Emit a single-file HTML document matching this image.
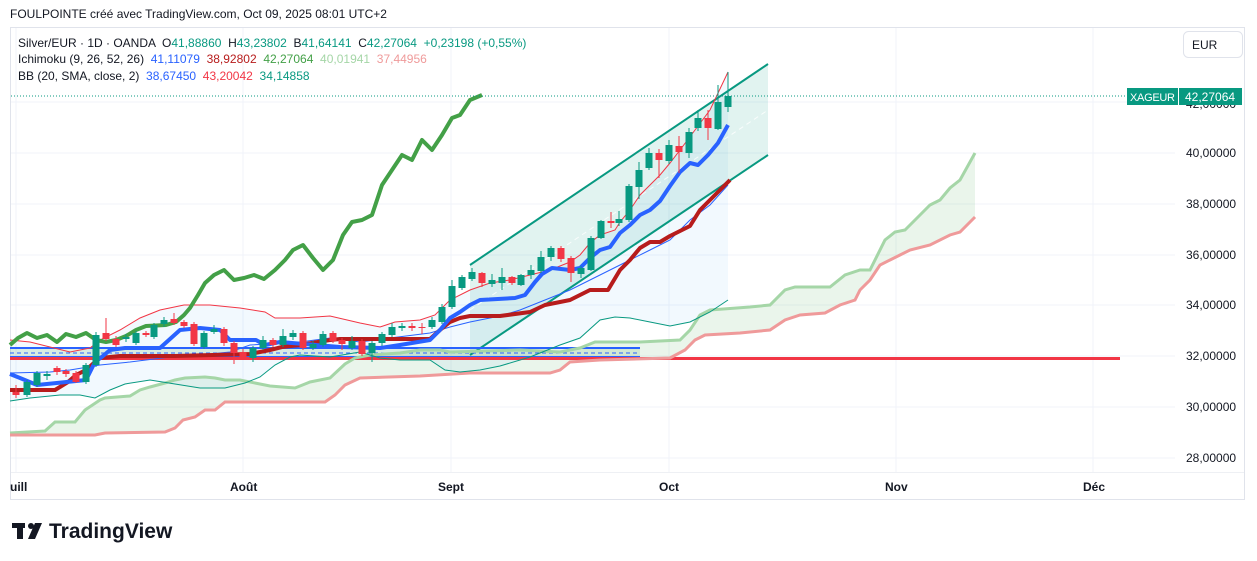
<!DOCTYPE html>
<html><head><meta charset="utf-8"><style>
body{margin:0;width:1257px;height:561px;background:#fff;overflow:hidden;font-family:"Liberation Sans",sans-serif;}
svg{position:absolute;left:0;top:0}
text{white-space:pre}
</style></head><body>
<svg id="s" width="1257" height="561" xmlns="http://www.w3.org/2000/svg" font-family="Liberation Sans, sans-serif">
<rect x="10.5" y="27.5" width="1234" height="472" fill="#fff" stroke="#e0e3eb"/>
<g stroke="#f0f3fa" stroke-width="1">
<line x1="11" y1="102" x2="1175" y2="102"/><line x1="11" y1="153" x2="1175" y2="153"/><line x1="11" y1="204" x2="1175" y2="204"/><line x1="11" y1="255" x2="1175" y2="255"/><line x1="11" y1="305" x2="1175" y2="305"/><line x1="11" y1="356" x2="1175" y2="356"/><line x1="11" y1="407" x2="1175" y2="407"/><line x1="11" y1="458" x2="1175" y2="458"/>
<line x1="16" y1="28" x2="16" y2="472"/><line x1="243" y1="28" x2="243" y2="472"/><line x1="451" y1="28" x2="451" y2="472"/><line x1="669" y1="28" x2="669" y2="472"/><line x1="896" y1="28" x2="896" y2="472"/><line x1="1093" y1="28" x2="1093" y2="472"/>
</g>
<line x1="11" y1="472.5" x2="1244" y2="472.5" stroke="#eef0f4"/>
<g id="plot"></g>
<text x="10" y="18" font-size="12" fill="#131722">FOULPOINTE créé avec TradingView.com, Oct 09, 2025 08:01 UTC+2</text>
<g font-size="12">
<text x="18" y="47" fill="#131722" xml:space="preserve">Silver/EUR · 1D · OANDA  O<tspan fill="#089981">41,88860</tspan>  H<tspan fill="#089981">43,23802</tspan>  B<tspan fill="#089981">41,64141</tspan>  C<tspan fill="#089981">42,27064</tspan>  <tspan fill="#089981">+0,23198 (+0,55%)</tspan></text>
<text x="18" y="63" fill="#131722" xml:space="preserve">Ichimoku (9, 26, 52, 26)  <tspan fill="#2962ff">41,11079</tspan>  <tspan fill="#b71c1c">38,92802</tspan>  <tspan fill="#43a047">42,27064</tspan>  <tspan fill="#a5d6a7">40,01941</tspan>  <tspan fill="#ef9a9a">37,44956</tspan></text>
<text x="18" y="80" fill="#131722" xml:space="preserve">BB (20, SMA, close, 2)  <tspan fill="#2962ff">38,67450</tspan>  <tspan fill="#f23645">43,20042</tspan>  <tspan fill="#089981">34,14858</tspan></text>
</g>
<rect x="1183.5" y="31.5" width="59" height="26" rx="5" fill="#fff" stroke="#e0e3eb"/>
<text x="1192" y="49" font-size="12" fill="#131722">EUR</text>
<g font-size="12" fill="#131722">
<text x="1186" y="157">40,00000</text><text x="1186" y="208">38,00000</text><text x="1186" y="259">36,00000</text><text x="1186" y="309">34,00000</text><text x="1186" y="360">32,00000</text><text x="1186" y="411">30,00000</text><text x="1186" y="462">28,00000</text><text x="1186" y="108">42,00000</text>
</g>
<line x1="11" y1="96" x2="1126" y2="96" stroke="#089981" stroke-dasharray="1,2"/>
<rect x="1127" y="88" width="51" height="17" fill="#089981"/><rect x="1179" y="88" width="63" height="17" fill="#089981"/>
<text x="1130" y="101" font-size="11" fill="#fff" textLength="45">XAGEUR</text><text x="1185" y="101" font-size="12" fill="#fff">42,27064</text>
<g font-size="12" fill="#131722" font-weight="bold">
<text x="10" y="491">uill</text><text x="230" y="491">Août</text><text x="438" y="491">Sept</text><text x="659" y="491">Oct</text><text x="885" y="491">Nov</text><text x="1083" y="491">Déc</text>
</g>
<g fill="#131722"><rect x="12" y="523" width="13" height="5"/><rect x="17" y="523" width="6" height="16"/><circle cx="31" cy="526" r="3"/><polygon points="35,523 42,523 35,539 28,539"/></g>
<text x="49" y="538" font-size="21" font-weight="bold" fill="#131722">TradingView</text>
</svg>
<script>
var g=document.getElementById('plot'),NS='http://www.w3.org/2000/svg';
function el(t,a){var e=document.createElementNS(NS,t);for(var k in a)e.setAttribute(k,a[k]);g.appendChild(e);return e;}
function pts(a){return a.map(function(p){return p.join(',')}).join(' ');}
var A=[[10,433],[45,431],[55,422],[75,422],[85,410],[100,400],[105,398],[130,396],[140,390],[150,387],[165,383],[175,380],[185,378],[205,377],[215,378],[225,380],[240,380],[270,386],[295,388],[310,382],[330,378],[345,364],[355,358],[370,355],[400,353],[420,350],[440,350],[450,352],[520,350],[560,352],[580,348],[595,342],[640,342],[680,340],[690,330],[700,315],[710,310],[750,307],[770,305],[785,290],[795,287],[830,287],[845,275],[860,270],[870,270],[885,240],[895,232],[905,230],[920,215],[930,205],[940,200],[950,188],[960,180],[975,153]];
var B=[[10,435],[95,435],[105,433],[165,432],[175,428],[183,420],[195,417],[205,410],[215,410],[225,402],[325,402],[335,395],[345,385],[360,378],[420,376],[470,373],[550,373],[560,370],[570,362],[600,360],[670,358],[685,350],[695,340],[705,335],[740,333],[770,330],[785,320],[800,315],[825,313],[840,305],[855,300],[860,290],[870,280],[880,265],[890,260],[900,255],[910,250],[930,245],[950,235],[960,232],[975,217]];
el('polygon',{points:pts(A.concat(B.slice().reverse())),fill:'rgba(67,160,71,0.11)'});
var U=[[10,340],[30,342],[70,352],[90,348],[100,340],[120,330],[140,318],[160,310],[184,305],[210,305],[240,308],[265,312],[275,318],[300,318],[330,316],[360,323],[380,327],[395,322],[420,320],[435,315],[450,300],[470,290],[490,283],[510,280],[530,275],[550,270],[570,262],[580,255],[590,243],[600,235],[615,230],[620,222],[630,210],[640,195],[650,185],[660,175],[670,163],[680,150],[695,130],[710,110],[728,72]];
var M=[[10,373],[50,372],[70,370],[100,365],[130,362],[170,357],[200,355],[230,352],[250,345],[300,342],[330,338],[360,342],[390,338],[430,333],[450,327],[470,322],[500,316],[520,310],[545,300],[570,290],[590,280],[610,270],[630,260],[650,250],[670,240],[690,220],[710,205],[728,185]];
var L=[[10,401],[30,398],[60,395],[80,395],[95,398],[110,390],[125,384],[150,380],[175,384],[200,388],[225,388],[245,383],[260,377],[275,365],[290,357],[300,355],[330,357],[360,352],[380,358],[400,360],[430,360],[445,370],[460,372],[480,370],[500,366],[530,357],[560,345],[580,338],[600,320],[615,317],[630,318],[650,322],[670,326],[690,322],[710,312],[728,300]];
el('polygon',{points:pts(U.concat(L.slice().reverse())),fill:'rgba(33,150,243,0.06)'});
el('polygon',{points:'470,265 768,64 768,155 470,355',fill:'rgba(8,153,129,0.12)'});
el('line',{x1:470,y1:310,x2:768,y2:110,stroke:'#fff','stroke-dasharray':'5,4','stroke-opacity':0.8});
el('line',{x1:470,y1:265,x2:768,y2:64,stroke:'#089981','stroke-width':2});
el('line',{x1:470,y1:355,x2:768,y2:155,stroke:'#089981','stroke-width':2});
el('rect',{x:10,y:348,width:630,height:9,fill:'rgba(67,160,71,0.15)'});
el('line',{x1:10,y1:348,x2:640,y2:348,stroke:'#2962ff','stroke-width':2});
el('line',{x1:10,y1:353,x2:640,y2:353,stroke:'#2962ff','stroke-dasharray':'4,3'});
el('line',{x1:10,y1:357,x2:640,y2:357,stroke:'#2962ff','stroke-width':2});
el('line',{x1:10,y1:358.5,x2:1120,y2:358.5,stroke:'#f23645','stroke-width':3});
el('polyline',{points:pts(A),fill:'none',stroke:'#a5d6a7','stroke-width':3});
el('polyline',{points:pts(B),fill:'none',stroke:'#ef9a9a','stroke-width':3});
el('polyline',{points:pts(U),fill:'none',stroke:'#f23645','stroke-width':1});
el('polyline',{points:pts(M),fill:'none',stroke:'#2962ff','stroke-width':1});
el('polyline',{points:pts(L),fill:'none',stroke:'#089981','stroke-width':1});
var K=[[10,390],[55,390],[68,382],[76,375],[86,370],[95,362],[100,358],[120,356],[175,356],[250,354],[270,350],[282,347],[300,345],[330,340],[340,339],[430,339],[440,330],[450,322],[460,318],[470,316],[500,316],[530,312],[545,305],[570,300],[590,290],[608,290],[620,270],[630,260],[640,248],[650,242],[660,242],[670,236],[690,226],[700,210],[710,200],[720,190],[730,180]];
var T=[[10,374],[20,378],[37,385],[86,380],[95,362],[103,356],[110,350],[125,348],[160,348],[180,330],[200,328],[220,330],[230,340],[256,340],[265,345],[280,342],[340,347],[380,348],[400,345],[430,340],[440,330],[450,318],[460,312],[470,305],[480,300],[515,298],[525,295],[535,282],[542,274],[552,268],[570,270],[580,268],[590,258],[600,250],[610,247],[620,233],[630,225],[640,215],[650,210],[660,201],[670,186],[680,172],[690,163],[698,165],[708,155],[718,143],[728,125]];
var C=[[10,345],[18,338],[27,333],[37,338],[47,335],[57,342],[66,334],[76,337],[86,333],[96,340],[106,342],[116,340],[126,336],[136,330],[146,326],[166,325],[176,322],[184,315],[190,308],[198,295],[205,283],[214,275],[224,270],[234,280],[244,278],[254,275],[264,279],[275,270],[285,260],[293,250],[303,245],[313,258],[323,270],[333,260],[343,235],[352,222],[362,220],[372,215],[382,185],[392,170],[402,155],[412,160],[422,140],[432,150],[442,135],[452,118],[460,115],[470,100],[482,95]];
el('polyline',{points:pts(C),fill:'none',stroke:'#43a047','stroke-width':4,'stroke-linejoin':'round'});
el('polyline',{points:pts(K),fill:'none',stroke:'#b71c1c','stroke-width':4,'stroke-linejoin':'round'});
el('polyline',{points:pts(T),fill:'none',stroke:'#2962ff','stroke-width':4,'stroke-linejoin':'round'});
var cd=[[16,392,395,385,398,0],[27,382,395,380,397,1],[37,373,385,371,387,1],[47,374,376,371,380,1],[57,368,372,366,375,0],[66,371,374,369,377,0],[76,373,382,371,383,0],[86,365,382,363,384,1],[96,335,365,332,367,1],[106,333,339,318,341,0],[116,339,345,336,347,0],[126,337,339,334,342,1],[136,333,343,331,345,1],[146,333,335,331,337,0],[154,325,337,323,339,1],[164,320,324,317,327,1],[174,319,323,313,325,0],[184,322,326,320,328,0],[194,324,344,322,346,0],[204,333,347,331,349,1],[214,329,332,325,334,1],[224,329,343,327,346,0],[234,343,353,341,364,0],[243,352,358,349,360,0],[253,348,358,346,362,1],[263,340,348,336,350,1],[273,340,345,338,347,0],[283,336,345,329,347,1],[293,333,337,330,340,1],[303,333,348,331,350,0],[313,344,348,341,350,1],[323,334,345,331,347,1],[333,333,341,331,343,0],[342,340,344,338,350,0],[352,341,348,336,350,1],[362,341,354,339,356,0],[372,343,353,341,362,1],[382,334,343,332,346,1],[392,327,335,323,337,1],[402,326,328,323,331,1],[412,326,328,323,331,0],[422,327,328,323,334,0],[432,320,327,317,329,1],[442,307,322,304,324,1],[452,286,307,280,309,1],[462,277,288,275,290,1],[472,272,279,268,281,1],[482,273,283,272,287,0],[492,280,284,274,287,1],[502,277,283,268,290,1],[512,277,283,276,285,0],[521,275,285,274,286,1],[531,270,275,265,279,1],[541,257,271,251,273,1],[551,248,257,246,261,1],[561,248,259,246,262,0],[571,258,273,256,282,0],[581,268,274,266,278,1],[591,238,270,236,271,1],[601,221,238,220,239,1],[611,221,223,212,228,0],[619,219,223,211,226,1],[629,186,220,184,222,1],[639,170,187,162,199,1],[649,153,168,148,170,1],[659,153,160,149,178,0],[669,145,161,140,164,1],[679,146,152,136,173,0],[689,132,153,128,158,1],[698,118,128,110,131,1],[708,118,128,110,140,0],[718,102,129,85,130,1],[728,96,107,72,112,1]];
cd.forEach(function(c){var col=c[5]?'#089981':'#f23645';el('line',{x1:c[0],y1:c[3],x2:c[0],y2:c[4],stroke:col,'stroke-width':1});el('rect',{x:c[0]-3.5,y:c[1],width:7,height:Math.max(1,c[2]-c[1]),fill:col});});
</script>
</body></html>
